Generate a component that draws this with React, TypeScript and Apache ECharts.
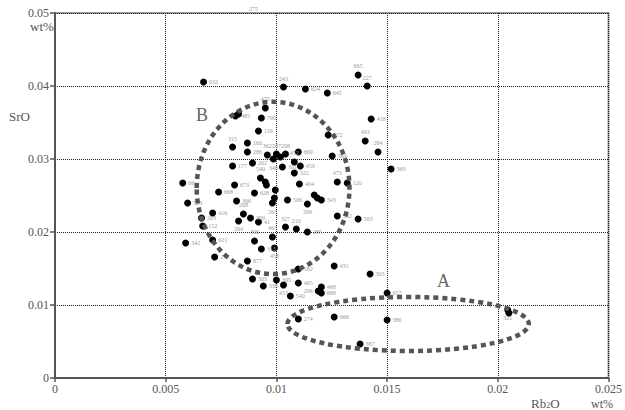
import React, { useEffect, useRef } from "react";
import * as echarts from "echarts";

// Sample numbers
const sampleIds = [
  "632","243","624","645","665","227","418","272","493","284",
  "369","364","473","120","","","343","209","563","582",
  "285","404","475","","485","790","116","315","160","286",
  "362","287","","208","669","346","452","459","177","202",
  "301","322","66","540","","","673","668","628","",
  "","306","506","263","523","416","268","300","264","41",
  "203","152","327","210","342","621","306","463","313","458",
  "278","677","303","338","305","453","562","465","540","468",
  "296","688","431","303","274","666","657","386","387","321",
  ""
];
// Rb2O (wt%)
const rb2o = [
  0.00671,0.01032,0.01131,0.0123,0.01369,0.0141,0.01428,0.01234,0.01401,0.01459,
  0.01518,0.01252,0.01275,0.0132,0.01171,0.01185,0.01203,0.0114,0.01369,0.01275,
  0.0114,0.01104,0.0095,0.00829,0.00815,0.00932,0.00919,0.00802,0.00869,0.00869,
  0.00959,0.01,0.01018,0.01041,0.01099,0.00986,0.01081,0.01108,0.00802,0.00892,
  0.01027,0.01081,0.00577,0.00928,0.0095,0.00955,0.00811,0.00739,0.00901,0.00995,
  0.00991,0.0082,0.0105,0.00982,0.00599,0.00712,0.00851,0.00883,0.00829,0.00919,
  0.00662,0.00667,0.01041,0.0109,0.0059,0.00712,0.00901,0.00982,0.00932,0.00991,
  0.00721,0.00869,0.00892,0.00941,0.01,0.01032,0.01099,0.01099,0.01063,0.01203,
  0.01189,0.01203,0.01261,0.01423,0.01099,0.01261,0.015,0.015,0.01378,0.02045,
  0.0205
];
// SrO (wt%)
const sro = [
  0.04055,0.03986,0.03959,0.03904,0.04151,0.04,0.03548,0.03329,0.03247,0.03096,
  0.02863,0.03041,0.02685,0.02671,0.02507,0.02466,0.02438,0.02384,0.02178,0.02219,
  0.02,0.02658,0.03699,0.03616,0.03589,0.03562,0.03384,0.03164,0.03219,0.03096,
  0.03055,0.03068,0.03027,0.03068,0.03096,0.03,0.02959,0.02904,0.02904,0.02945,
  0.0289,0.02808,0.02671,0.0274,0.02685,0.02644,0.02644,0.02548,0.02534,0.02575,
  0.02466,0.02425,0.02438,0.02397,0.02397,0.0226,0.02247,0.02192,0.02151,0.02137,
  0.02192,0.02082,0.02068,0.02041,0.01849,0.0189,0.01877,0.01932,0.01767,0.01781,
  0.01658,0.01603,0.01356,0.0126,0.01342,0.01274,0.01493,0.01301,0.01123,0.01247,
  0.01192,0.01164,0.01534,0.01425,0.00808,0.00836,0.01164,0.00795,0.00466,0.00932,
  0.0089
];
const xTicks = [0, 0.005, 0.01, 0.015, 0.02, 0.025];
const yTicks = [0, 0.01, 0.02, 0.03, 0.04, 0.05];

// Group outlines (data units): [cx, cy, rx, ry]
const groupB = [0.00985, 0.02603, 0.00345, 0.0118];
const groupA = [0.01595, 0.0074, 0.00545, 0.0037];

// label placement overrides (by index)
const labelPlace: Record<number, string> = {
  1: "top", 4: "top", 5: "top", 8: "top", 9: "top", 12: "top", 17: "bottom",
  22: "top", 27: "top", 30: "top", 31: "top", 33: "top", 35: "bottom", 36: "top",
  43: "top", 53: "bottom", 56: "top", 58: "bottom", 62: "top", 63: "top",
  66: "top", 67: "top", 69: "bottom", 75: "bottom", 80: "left", 89: "bottom",
};

const serif = "Liberation Serif";

export default function App() {
  const ref = useRef<HTMLDivElement>(null);
  useEffect(() => {
    if (!ref.current) return;
    document.body.style.margin = "0";
    const chart = echarts.init(ref.current, undefined, { renderer: "svg" });
    const data = rb2o.map((x, i) => ({
      value: [x, sro[i]],
      name: sampleIds[i],
      label: { position: (labelPlace[i] || "right") as any },
    }));
    const gridLeft = 55, gridRight = 15, gridTop = 13, gridBottom = 32;
    chart.setOption({
      animation: false,
      grid: {
        left: gridLeft, right: gridRight, top: gridTop, bottom: gridBottom,
        show: true, borderColor: "#999", borderWidth: 2, backgroundColor: "transparent",
      },
      xAxis: {
        type: "value", min: xTicks[0], max: xTicks[xTicks.length - 1], interval: 0.005,
        axisLine: { lineStyle: { color: "#555", width: 2 } },
        axisTick: { show: true, length: 4, lineStyle: { color: "#555", width: 1.5 } },
        axisLabel: { color: "#555", fontFamily: serif, fontSize: 12, margin: 5,
          formatter: (v: number) => String(+v.toFixed(4)) },
        splitLine: { show: true, lineStyle: { color: "#222", type: [1, 1], width: 1 } },
      },
      yAxis: {
        type: "value", min: yTicks[0], max: yTicks[yTicks.length - 1], interval: 0.01,
        axisLine: { show: true, lineStyle: { color: "#555", width: 2 } },
        axisTick: { show: true, length: 5, lineStyle: { color: "#555", width: 1.5 } },
        axisLabel: { color: "#555", fontFamily: serif, fontSize: 12, margin: 6,
          formatter: (v: number) => String(+v.toFixed(4)) },
        splitLine: { show: true, lineStyle: { color: "#222", type: [1, 1], width: 1 } },
      },
      series: [
        {
          type: "scatter",
          symbol: "circle",
          symbolSize: 7,
          itemStyle: { color: "#000", opacity: 1 },
          data,
          label: {
            show: true, formatter: "{b}", fontSize: 6, color: "#999",
            fontFamily: serif, distance: 2,
          },
          z: 5,
        },
      ],
    });
    const toPx = (g: number[]) => {
      const c = chart.convertToPixel({ gridIndex: 0 } as any, [g[0], g[1]]) as number[];
      const e = chart.convertToPixel({ gridIndex: 0 } as any, [g[0] + g[2], g[1] + g[3]]) as number[];
      return { cx: c[0], cy: c[1], rx: Math.abs(e[0] - c[0]), ry: Math.abs(e[1] - c[1]) };
    };
    const dashStyle = { fill: "none", stroke: "#555", lineWidth: 4.5, lineDash: [5, 4] };
    chart.setOption({
      graphic: [
        { type: "ellipse", shape: toPx(groupB), style: dashStyle, z: 10 },
        { type: "ellipse", shape: toPx(groupA), style: dashStyle, z: 10 },
        { type: "text", left: 196, top: 106, style: { text: "B", font: `18px ${serif}`, fill: "#666" }, z: 11 },
        { type: "text", left: 437, top: 272, style: { text: "A", font: `18px ${serif}`, fill: "#666" }, z: 11 },
        { type: "text", left: 249, top: 6, style: { text: "275", font: `6px ${serif}`, fill: "#999" }, z: 11 },
        { type: "text", left: 30, top: 20, style: { text: "wt%", font: `13px ${serif}`, fill: "#555" } },
        { type: "text", left: 9, top: 110, style: { text: "SrO", font: `13px ${serif}`, fill: "#555" } },
        {
          type: "text", left: 531, top: 397,
          style: {
            text: "{a|Rb}{s|2}{a|O}",
            rich: {
              a: { font: `13px ${serif}`, fill: "#555" } as any,
              s: { font: `8px ${serif}`, fill: "#555", padding: [4, 0, 0, 0] } as any,
            },
          },
        },
        { type: "text", left: 591, top: 398, style: { text: "wt%", font: `12px ${serif}`, fill: "#555" } },
      ],
    });
    return () => chart.dispose();
  }, []);
  return <div ref={ref} style={{ width: 625, height: 410 }} />;
}
